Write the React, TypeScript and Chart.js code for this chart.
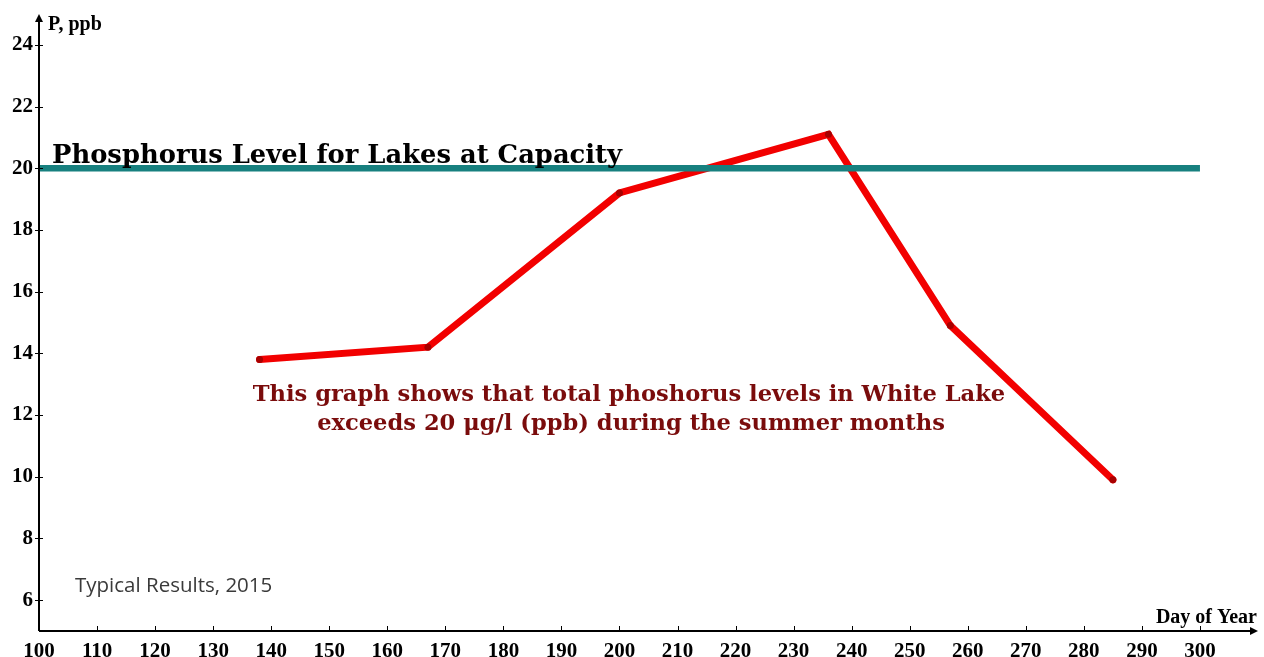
import React, { useEffect, useRef } from "react";
import { Chart, registerables } from "chart.js";

Chart.register(...registerables);

const days = [138, 167, 200, 236, 257, 285];
const phosphorus = [13.8, 14.2, 19.2, 21.1, 14.9, 9.9];
const capacityDays = [100, 300];
const capacityLevel = [20, 20];
const xTicks = [100, 110, 120, 130, 140, 150, 160, 170, 180, 190, 200, 210, 220, 230, 240, 250, 260, 270, 280, 290, 300];
const yTicks = [6, 8, 10, 12, 14, 16, 18, 20, 22, 24];

const SERIF = '"Liberation Serif", "Times New Roman", serif';
const WIDE_SERIF = '"DejaVu Serif", Georgia, serif';

const decorPlugin = {
  id: "decor",
  afterDatasetsDraw(chart: any) {
    const ctx = chart.ctx;
    const xs = chart.scales.x;
    const ys = chart.scales.y;
    const ca = chart.chartArea;
    ctx.save();
    // axes
    ctx.strokeStyle = "#000";
    ctx.fillStyle = "#000";
    ctx.lineWidth = 2;
    ctx.beginPath();
    ctx.moveTo(ca.left, ca.bottom);
    ctx.lineTo(ca.left, ca.top + 4);
    ctx.moveTo(ca.left, ca.bottom);
    ctx.lineTo(ca.right - 4, ca.bottom);
    ctx.stroke();
    // arrows
    ctx.beginPath();
    ctx.moveTo(ca.left, ca.top);
    ctx.lineTo(ca.left - 4, ca.top + 8);
    ctx.lineTo(ca.left + 4, ca.top + 8);
    ctx.closePath();
    ctx.fill();
    ctx.beginPath();
    ctx.moveTo(ca.right, ca.bottom);
    ctx.lineTo(ca.right - 8, ca.bottom - 4);
    ctx.lineTo(ca.right - 8, ca.bottom + 4);
    ctx.closePath();
    ctx.fill();
    // tick marks
    ctx.lineWidth = 1;
    ctx.beginPath();
    yTicks.forEach((v) => {
      const py = Math.round(ys.getPixelForValue(v)) + 0.5;
      ctx.moveTo(ca.left - 4, py);
      ctx.lineTo(ca.left + 4, py);
    });
    xTicks.forEach((v) => {
      if (v === 100) return;
      const px = Math.round(xs.getPixelForValue(v)) + 0.5;
      ctx.moveTo(px, ca.bottom - 5);
      ctx.lineTo(px, ca.bottom + 1);
    });
    ctx.stroke();

    // axis titles
    ctx.fillStyle = "#000";
    ctx.font = `bold 20px ${SERIF}`;
    ctx.textAlign = "left";
    ctx.textBaseline = "alphabetic";
    ctx.fillText("P, ppb", 48, 30);
    ctx.textAlign = "right";
    ctx.fillText("Day of Year", 1257, 623);

    // capacity label
    ctx.textAlign = "left";
    ctx.font = `bold 25.8px ${WIDE_SERIF}`;
    ctx.fillText("Phosphorus Level for Lakes at Capacity", 52, 163);

    // annotation
    ctx.fillStyle = "#7a0c0c";
    ctx.font = `bold 22.6px ${WIDE_SERIF}`;
    ctx.textAlign = "center";
    ctx.textBaseline = "middle";
    ctx.fillText("This graph shows that total phoshorus levels in White Lake", 629, 395);
    ctx.fillText("exceeds 20 \u03bcg/l (ppb) during the summer months", 631, 424);

    // note
    ctx.fillStyle = "#3a3a3a";
    ctx.font = `20.5px "Open Sans", sans-serif`;
    ctx.textAlign = "left";
    ctx.fillText("Typical Results, 2015", 75, 586);
    ctx.restore();
  },
};

export default function App() {
  const ref = useRef<HTMLCanvasElement>(null);
  useEffect(() => {
    document.body.style.margin = "0";
    const chart = new Chart(ref.current as HTMLCanvasElement, {
      type: "line",
      data: {
        datasets: [
          {
            label: "Capacity",
            data: capacityDays.map((d, i) => ({ x: d, y: capacityLevel[i] })),
            borderColor: "#17807f",
            borderWidth: 6.5,
            pointRadius: 0,
          },
          {
            label: "Phosphorus",
            data: days.map((d, i) => ({ x: d, y: phosphorus[i] })),
            borderColor: "#f20000",
            borderWidth: 7,
            borderCapStyle: "round",
            borderJoinStyle: "miter",
            pointRadius: 3.5,
            pointBorderWidth: 0,
            pointBackgroundColor: "#a80000",
          },
        ],
      },
      options: {
        responsive: false,
        animation: false,
        layout: { padding: { top: 14, right: 6, left: 0, bottom: 0 } },
        plugins: { legend: { display: false }, tooltip: { enabled: false }, title: { display: false } },
        scales: {
          x: {
            type: "linear",
            min: 100,
            max: 310,
            grid: { display: false, drawTicks: false },
            border: { display: false },
            afterBuildTicks: (s: any) => {
              s.ticks = xTicks.map((v) => ({ value: v }));
            },
            afterFit: (s: any) => {
              s.height = 26;
              s.paddingLeft = 0;
              s.paddingRight = 0;
            },
            ticks: {
              padding: 8,
              color: "#000",
              maxRotation: 0,
              autoSkip: false,
              font: { family: SERIF, size: 21, weight: "bold" },
            },
          },
          y: {
            type: "linear",
            min: 5,
            max: 25,
            grid: { display: false, drawTicks: false },
            border: { display: false },
            afterBuildTicks: (s: any) => {
              s.ticks = yTicks.map((v) => ({ value: v }));
            },
            afterFit: (s: any) => {
              s.width = 39;
              s.paddingTop = 0;
              s.paddingBottom = 0;
            },
            ticks: {
              padding: 6,
              color: "#000",
              autoSkip: false,
              font: { family: SERIF, size: 21, weight: "bold" },
            },
          },
        },
      },
      plugins: [decorPlugin],
    } as any);
    return () => chart.destroy();
  }, []);
  return (
    <div style={{ position: "absolute", left: 0, top: 0, width: 1264, height: 657, background: "#fff" }}>
      <canvas ref={ref} width={1264} height={657} />
    </div>
  );
}
